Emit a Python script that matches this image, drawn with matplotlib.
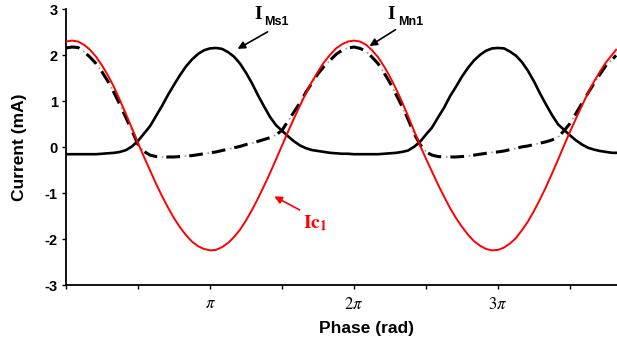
import numpy as np
import matplotlib
matplotlib.use("Agg")
import matplotlib.pyplot as plt

plt.rcParams['font.family'] = ['Liberation Sans', 'DejaVu Sans']
plt.rcParams['mathtext.fontset'] = 'stix'

# sample phases (rad), read every pi/24 from the picture, last one at the right edge
phase = np.append(np.arange(92) * np.pi / 24, 12.0)

ic1 = [2.30, 2.32, 2.30, 2.23, 2.12, 1.97, 1.78, 1.56, 1.31, 1.02, 0.72, 0.41,
       0.09, -0.21, -0.50, -0.79, -1.06, -1.31, -1.54, -1.74, -1.91, -2.05, -2.15, -2.21,
       -2.24, -2.23, -2.17, -2.08, -1.95, -1.79, -1.59, -1.36, -1.11, -0.84, -0.56, -0.26,
       0.04, 0.34, 0.63, 0.91, 1.18, 1.43, 1.65, 1.85, 2.01, 2.15, 2.24, 2.30,
       2.32, 2.30, 2.23, 2.11, 1.96, 1.76, 1.53, 1.27, 0.99, 0.68, 0.36, 0.04,
       -0.25, -0.53, -0.81, -1.07, -1.32, -1.54, -1.73, -1.90, -2.04, -2.14, -2.21, -2.24,
       -2.23, -2.18, -2.09, -1.97, -1.80, -1.61, -1.38, -1.13, -0.86, -0.57, -0.27, 0.04,
       0.34, 0.63, 0.91, 1.18, 1.43, 1.65, 1.85, 2.01, 2.12]

ims1 = [-0.15, -0.15, -0.15, -0.15, -0.15, -0.15, -0.14, -0.13, -0.12, -0.10, -0.06, 0.02,
        0.14, 0.30, 0.46, 0.68, 0.90, 1.14, 1.36, 1.57, 1.76, 1.91, 2.03, 2.11,
        2.15, 2.16, 2.14, 2.07, 1.97, 1.82, 1.62, 1.39, 1.13, 0.89, 0.66, 0.48,
        0.36, 0.24, 0.13, 0.04, -0.02, -0.06, -0.08, -0.10, -0.12, -0.13, -0.14, -0.14,
        -0.15, -0.15, -0.15, -0.15, -0.15, -0.14, -0.13, -0.12, -0.10, -0.07, 0.01, 0.12,
        0.28, 0.43, 0.65, 0.86, 1.11, 1.32, 1.54, 1.73, 1.89, 2.01, 2.10, 2.15,
        2.16, 2.15, 2.08, 1.99, 1.85, 1.66, 1.43, 1.17, 0.93, 0.70, 0.50, 0.38,
        0.26, 0.15, 0.06, -0.01, -0.05, -0.08, -0.10, -0.12, -0.12]

imn1 = [2.16, 2.18, 2.17, 2.08, 1.96, 1.82, 1.64, 1.43, 1.19, 0.92, 0.64, 0.36,
        0.06, -0.09, -0.17, -0.20, -0.21, -0.21, -0.21, -0.20, -0.19, -0.18, -0.16, -0.14,
        -0.12, -0.10, -0.07, -0.04, -0.01, 0.02, 0.06, 0.09, 0.13, 0.17, 0.21, 0.27,
        0.37, 0.57, 0.77, 0.97, 1.20, 1.40, 1.60, 1.76, 1.89, 2.02, 2.11, 2.16,
        2.18, 2.15, 2.09, 1.96, 1.82, 1.62, 1.40, 1.15, 0.89, 0.61, 0.30, 0.06,
        -0.10, -0.17, -0.20, -0.21, -0.21, -0.21, -0.20, -0.19, -0.17, -0.15, -0.13, -0.11,
        -0.10, -0.08, -0.05, -0.02, 0.01, 0.03, 0.06, 0.09, 0.12, 0.16, 0.22, 0.36,
        0.52, 0.74, 0.96, 1.18, 1.39, 1.59, 1.78, 1.90, 2.00]

tick_pos = np.arange(8) * np.pi / 2
tick_labels = ['', '', r'$\pi$', '', r'$2\pi$', '', r'$3\pi$', '']

fig = plt.figure(figsize=(6.17, 3.49), dpi=100)
ax = fig.add_axes([0.107, 0.1825, 0.893, 0.7908])

# dash-dot line: black dashes with grey dots in the gaps
ax.plot(phase, imn1, color='black', lw=2.2, linestyle=(0, (4.5, 3.0)), zorder=2)
ax.plot(phase, imn1, color='#999999', lw=1.2, linestyle=(2.7, (1.0, 12.75)), zorder=2)
ax.plot(phase, ims1, color='black', lw=1.9, zorder=3)
ax.plot(phase, ic1, color='red', lw=1.4, zorder=4)

ax.set_xlim(0, 12.02)
ax.set_ylim(-3, 3)
ax.set_xticks(tick_pos)
ax.set_xticklabels(tick_labels, fontsize=12)
ax.set_yticks(np.arange(-3, 4))
ax.set_yticklabels([str(v) for v in range(-3, 4)], fontsize=10.5, fontweight='bold')
ax.tick_params(axis='x', direction='out', length=3, width=1, pad=5)
ax.tick_params(axis='y', direction='out', length=3, width=1, pad=3)

for s in ['top', 'right']:
    ax.spines[s].set_visible(False)
for s in ['left', 'bottom']:
    ax.spines[s].set_linewidth(1.3)

ax.set_ylabel('Current (mA)', fontsize=12.5, fontweight='bold')
ax.yaxis.set_label_coords(-0.07, 0.5)
ax.set_xlabel('Phase (rad)', fontsize=12.5, fontweight='bold')
ax.xaxis.set_label_coords(0.546, -0.13)

# curve labels
serif = 'Liberation Serif'
ax.text(4.10, 2.80, 'I', family=serif, fontsize=14, fontweight='bold')
ax.text(4.32, 2.65, 'Ms1', fontsize=9, fontweight='bold')
ax.annotate('', xy=(3.69, 2.11), xytext=(4.45, 2.54),
            arrowprops=dict(arrowstyle='-|>', color='black', lw=1.2, mutation_scale=11))

ax.text(7.02, 2.80, 'I', family=serif, fontsize=14, fontweight='bold')
ax.text(7.24, 2.65, 'Mn1', fontsize=9, fontweight='bold')
ax.annotate('', xy=(6.57, 2.17), xytext=(7.24, 2.59),
            arrowprops=dict(arrowstyle='-|>', color='black', lw=1.2, mutation_scale=11))

ax.text(5.17, -1.76, r'$\mathbf{Ic}_{\mathbf{1}}$', fontsize=14, color='red')
ax.annotate('', xy=(4.49, -1.04), xytext=(5.15, -1.39),
            arrowprops=dict(arrowstyle='-|>', color='red', lw=1.2, mutation_scale=11))

fig.savefig('out.png', dpi=100)
